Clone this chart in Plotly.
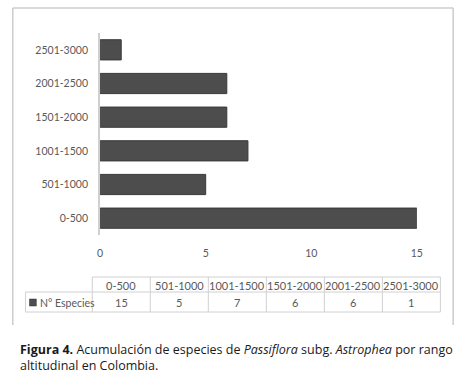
import plotly.graph_objects as go

categories = ["0-500", "501-1000", "1001-1500", "1501-2000", "2001-2500", "2501-3000"]
especies = [15, 5, 7, 6, 6, 1]
series_name = "N° Especies"
x_ticks = [0, 5, 10, 15]

W, H = 467, 377
def px(x): return x / W
def py(y): return 1 - y / H

FONT = "Lato, Open Sans, sans-serif"
FS = 10.5
TFS = 11
TXT = "#595959"

fig = go.Figure()
fig.add_trace(go.Bar(
    y=categories, x=especies, orientation="h", width=0.6,
    marker=dict(color="#4d4d4d", line=dict(color="#383838", width=1)),
    name=series_name, showlegend=False, hoverinfo="x+y",
))

shapes = []
annotations = []

def seg(x0, y0, x1, y1, color, width=1):
    shapes.append(dict(type="line", xref="paper", yref="paper", x0=px(x0), x1=px(x1),
                       y0=py(y0), y1=py(y1), line=dict(color=color, width=width), layer="above"))

# outer border (left, top, right)
bc = "#cccccc"
seg(10, 8, 10, 325, bc, 1.5)
seg(10, 8, 459, 8, bc, 1.5)
seg(459, 8, 459, 325, bc, 1.5)

# data table
x_left, x_col0, x_right = 23, 91, 446
y_top, y_mid, y_bot = 277, 292, 312
n = len(categories)
cw = (x_right - x_col0) / n
lc = "#d0d0d0"
seg(x_col0, y_top, x_right, y_top, lc)
seg(x_left, y_mid, x_right, y_mid, lc)
seg(x_left, y_bot, x_right, y_bot, lc)
seg(x_left, y_mid, x_left, y_bot, lc)
for i in range(n + 1):
    seg(x_col0 + i * cw, y_top, x_col0 + i * cw, y_bot, lc)
for i, (c, v) in enumerate(zip(categories, especies)):
    cx = x_col0 + (i + 0.5) * cw
    annotations.append(dict(xref="paper", yref="paper", x=px(cx), y=py((y_top + y_mid) / 2 + 0.5), text=c,
                            showarrow=False, font=dict(family=FONT, size=TFS, color=TXT), xanchor="center", yanchor="middle"))
    annotations.append(dict(xref="paper", yref="paper", x=px(cx), y=py((y_mid + y_bot) / 2 + 0.5), text=str(v),
                            showarrow=False, font=dict(family=FONT, size=TFS, color=TXT), xanchor="center", yanchor="middle"))
# legend key
shapes.append(dict(type="rect", xref="paper", yref="paper", x0=px(27), x1=px(34), y0=py(306), y1=py(299),
                   fillcolor="#4d4d4d", line=dict(color="#333333", width=0.5)))
annotations.append(dict(xref="paper", yref="paper", x=px(36), y=py((y_mid + y_bot) / 2 + 0.5), text=series_name,
                        showarrow=False, font=dict(family=FONT, size=FS, color=TXT), xanchor="left", yanchor="middle"))

# caption
annotations.append(dict(xref="paper", yref="paper", x=px(15), y=py(339), xanchor="left", yanchor="top", align="left",
                        showarrow=False,
                        text="<b>Figura 4.</b> Acumulación de especies de <i>Passiflora</i> subg. <i>Astrophea</i> por rango<br>altitudinal en Colombia.",
                        font=dict(family="Open Sans, sans-serif", size=12.5, color="#1a1a1a")))

fig.update_layout(
    width=W, height=H, margin=dict(l=0, r=0, t=0, b=0),
    paper_bgcolor="white", plot_bgcolor="white",
    xaxis=dict(domain=[px(99), px(422)], range=[0, 15], tickvals=x_ticks, showgrid=False, zeroline=False,
               showline=False, ticks="", tickfont=dict(family=FONT, size=FS, color=TXT), ticklabelstandoff=10),
    yaxis=dict(domain=[py(235), py(33)], categoryorder="array", categoryarray=categories, range=[-0.5, 5.5],
               showline=True, linecolor="#cfcfcf", linewidth=2, showgrid=False, zeroline=False, ticks="",
               tickfont=dict(family=FONT, size=FS, color=TXT), ticklabelstandoff=8),
    shapes=shapes, annotations=annotations, bargap=0.4,
)
fig.write_html("out.html", config={"displayModeBar": False},
               post_script="document.body.style.margin='0';document.body.style.padding='0';")
